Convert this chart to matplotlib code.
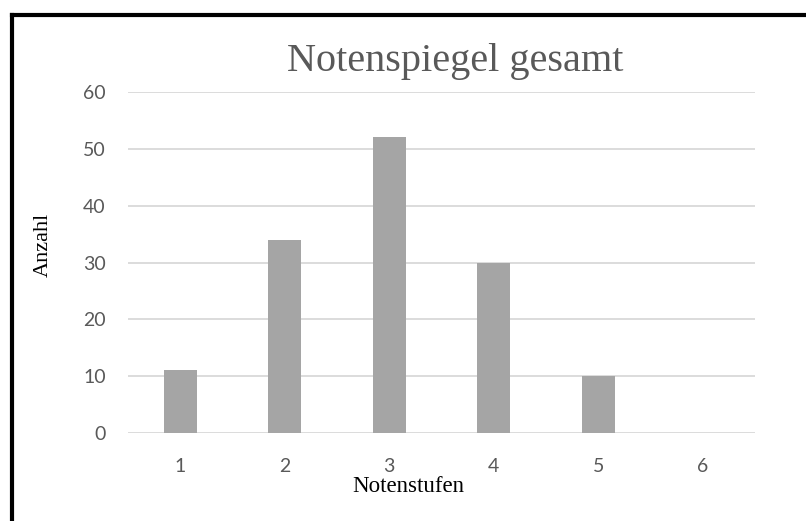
import matplotlib.pyplot as plt
from matplotlib.lines import Line2D

# Notenspiegel data
noten = [1, 2, 3, 4, 5, 6]
anzahl = [11, 34, 52, 30, 10, 0]
y_ticks = [0, 10, 20, 30, 40, 50, 60]

W, H = 806, 521
fig = plt.figure(figsize=(W / 100, H / 100), dpi=100)
fig.patch.set_facecolor('white')

# plot area in pixels: x 128..755, y 92..433
ax = fig.add_axes([128 / W, 1 - 433 / H, (755 - 128) / W, (433 - 92) / H])

ax.bar(noten, anzahl, width=0.316, color='#A5A5A5', zorder=3)
ax.set_xlim(0.5, 6.5)
ax.set_ylim(0, 60)
ax.set_yticks(y_ticks)
ax.set_xticks(noten)
ax.grid(axis='y', color='#D9D9D9', linewidth=1.3, zorder=0)
for s in ax.spines.values():
    s.set_visible(False)
ax.tick_params(length=0, colors='#595959', labelsize=14)
ax.tick_params(axis='y', pad=16)
ax.tick_params(axis='x', pad=18)
for lab in ax.get_xticklabels() + ax.get_yticklabels():
    lab.set_fontfamily('Lato')

# title and axis labels
fig.text(455 / W, 1 - 62 / H, 'Notenspiegel gesamt', family='Liberation Serif',
         fontsize=29, color='#595959', ha='center', va='center')
fig.text(408 / W, 1 - 487 / H, 'Notenstufen', family='Liberation Serif',
         fontsize=16.5, color='black', ha='center', va='center')
fig.text(43 / W, 1 - 245 / H, 'Anzahl', family='Liberation Serif',
         fontsize=16, color='black', ha='center', va='center', rotation=90)

# black frame, top and left edge
fig.add_artist(Line2D([11.5 / W, 1], [1 - 15 / H, 1 - 15 / H], color='black',
                      linewidth=3, transform=fig.transFigure))
fig.add_artist(Line2D([11.5 / W, 11.5 / W], [0, 1 - 15 / H], color='black',
                      linewidth=3, transform=fig.transFigure))

fig.savefig('out.png', dpi=100)
